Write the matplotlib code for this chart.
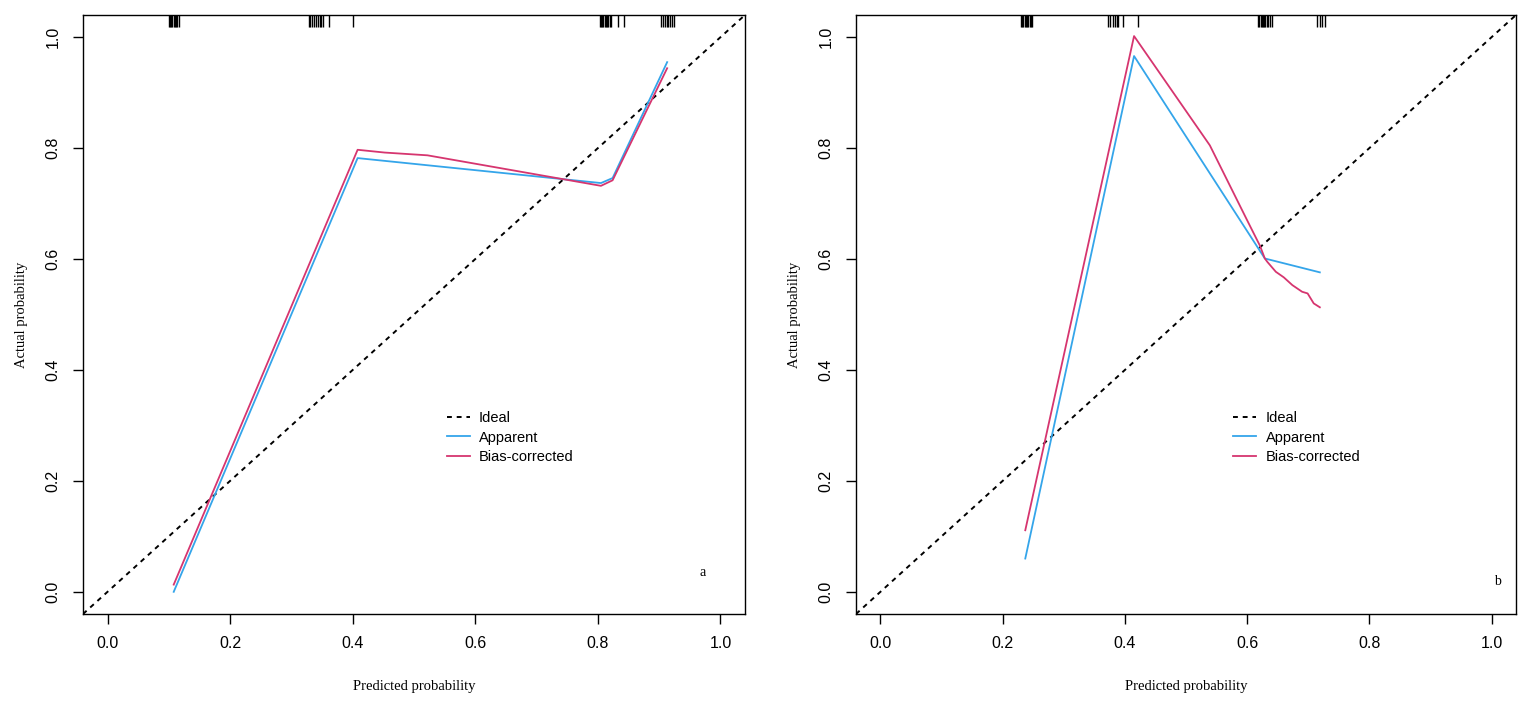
import numpy as np
import matplotlib.pyplot as plt

# panel a
a_app_x = [0.108, 0.408, 0.805, 0.824, 0.913]
a_app_y = [0.000, 0.782, 0.737, 0.746, 0.955]
a_bc_x = [0.108, 0.408, 0.452, 0.522, 0.805, 0.824, 0.913]
a_bc_y = [0.013, 0.797, 0.792, 0.787, 0.732, 0.742, 0.944]
a_rug = [0.100, 0.102, 0.104, 0.106, 0.108, 0.110, 0.112, 0.114, 0.116,
         0.328, 0.331, 0.334, 0.337, 0.340, 0.343, 0.346, 0.349, 0.352, 0.361, 0.400,
         0.803, 0.805, 0.807, 0.809, 0.811, 0.813, 0.815, 0.817, 0.819, 0.821,
         0.833, 0.842,
         0.903, 0.906, 0.909, 0.912, 0.915, 0.918, 0.921, 0.924]

# panel b
b_app_x = [0.237, 0.415, 0.629, 0.719]
b_app_y = [0.060, 0.966, 0.601, 0.576]
b_bc_x = [0.237, 0.415, 0.539, 0.600, 0.621, 0.629, 0.633, 0.647, 0.660,
          0.674, 0.690, 0.699, 0.709, 0.719]
b_bc_y = [0.111, 1.002, 0.805, 0.670, 0.624, 0.601, 0.595, 0.577, 0.567,
          0.553, 0.541, 0.538, 0.520, 0.513]
b_rug = [0.230, 0.232, 0.234, 0.236, 0.238, 0.240, 0.242, 0.244, 0.246, 0.248,
         0.373, 0.376, 0.381, 0.384, 0.387, 0.389, 0.397, 0.422,
         0.618, 0.620, 0.622, 0.624, 0.626, 0.628, 0.630, 0.632, 0.634, 0.637, 0.640,
         0.714, 0.719, 0.723, 0.728]

ticks = [0.0, 0.2, 0.4, 0.6, 0.8, 1.0]
blue = '#34a5ea'
pink = '#d6356f'

fig = plt.figure(figsize=(15.35, 7.09), dpi=100)
ax_a = fig.add_axes([83 / 1535, 1 - 614 / 709, 662 / 1535, 599 / 709])
ax_b = fig.add_axes([856 / 1535, 1 - 614 / 709, 660 / 1535, 599 / 709])


def draw_panel(ax, app_x, app_y, bc_x, bc_y, rug, tag, tag_xy, leg_x):
    ax.plot([-0.04, 1.04], [-0.04, 1.04], color='black', lw=1.4,
            linestyle=(0, (2.5, 2.5)), label='Ideal')
    ax.plot(app_x, app_y, color=blue, lw=1.3, label='Apparent')
    ax.plot(bc_x, bc_y, color=pink, lw=1.3, label='Bias-corrected')
    ax.vlines(rug, 1.018, 1.04, color='black', lw=1.0)
    ax.set_xlim(-0.04, 1.04)
    ax.set_ylim(-0.04, 1.04)
    ax.set_xticks(ticks)
    ax.set_yticks(ticks)
    ax.set_xticklabels(['%.1f' % t for t in ticks], family='Liberation Sans', fontsize=11.5)
    ax.set_yticklabels(['%.1f' % t for t in ticks], family='Liberation Sans', fontsize=11.5,
                       rotation=90, va='center')
    ax.tick_params(direction='out', length=7, width=1, pad=9)
    for s in ax.spines.values():
        s.set_linewidth(1)
    ax.set_xlabel('Predicted probability', family='Liberation Serif', fontsize=10.5, labelpad=21)
    ax.set_ylabel('Actual probability', family='Liberation Serif', fontsize=10.5, labelpad=13)
    ax.legend(loc='upper left', bbox_to_anchor=(leg_x, 0.36), frameon=False,
              prop={'family': 'Liberation Sans', 'size': 10.5},
              handlelength=1.55, handletextpad=0.65, labelspacing=0.35)
    ax.text(tag_xy[0], tag_xy[1], tag, family='Liberation Serif', fontsize=10,
            ha='center', va='center')


draw_panel(ax_a, a_app_x, a_app_y, a_bc_x, a_bc_y, a_rug, 'a', (0.971, 0.034), 0.530)
draw_panel(ax_b, b_app_x, b_app_y, b_bc_x, b_bc_y, b_rug, 'b', (1.01, 0.018), 0.552)

fig.savefig('out.png', dpi=100)
